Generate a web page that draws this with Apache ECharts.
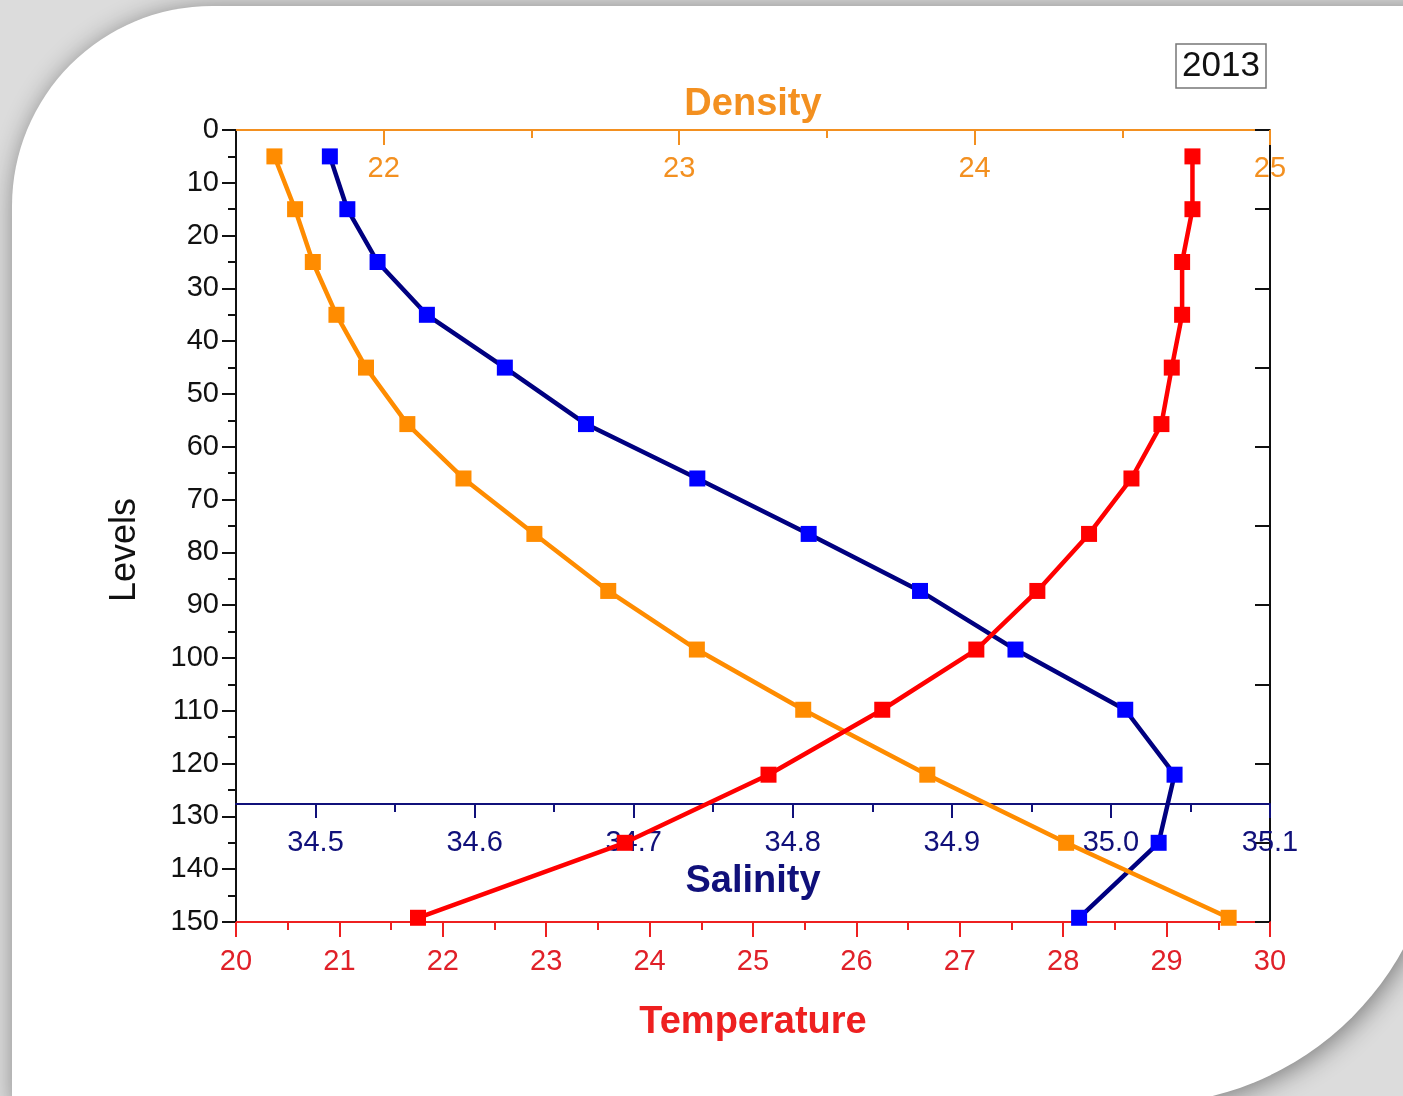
<!DOCTYPE html>
<html>
<head>
<meta charset="utf-8">
<title>2013 profile</title>
<script src="https://cdn.jsdelivr.net/npm/echarts@6/dist/echarts.min.js"></script>
<style>
    html, body { margin: 0; padding: 0; width: 1403px; height: 1096px; overflow: hidden; background: #dcdcdc; }
    .card {
        position: absolute; left: 12px; top: 6px; width: 1428px; height: 1099px;
        background: #fff; border-radius: 200px 0 300px 0;
        box-shadow: 3px 3px 26px rgba(0, 0, 0, 0.45);
    }
    #chart { position: absolute; left: 0; top: 0; width: 1403px; height: 1096px; }
</style>
</head>
<body>
<div class="card"></div>
<div id="chart"></div>
<script>
// depth levels of the profile points
const levels = [5, 15, 25, 35, 45, 55.7, 66, 76.5, 87.3, 98.4, 109.8, 122.1, 135, 149.2];
const temperature = [29.25, 29.25, 29.15, 29.15, 29.05, 28.95, 28.66, 28.25, 27.75, 27.16, 26.25, 25.15, 23.76, 21.76];
const density = [21.63, 21.70, 21.76, 21.84, 21.94, 22.08, 22.27, 22.51, 22.76, 23.06, 23.42, 23.84, 24.31, 24.86];
const salinity = [34.509, 34.520, 34.539, 34.570, 34.619, 34.670, 34.740, 34.810, 34.880, 34.940, 35.009, 35.040, 35.030, 34.980];

const densityTicks = [22, 23, 24, 25];
const densityMinor = [22.5, 23.5, 24.5];
const salinityTicks = [34.5, 34.6, 34.7, 34.8, 34.9, 35.0, 35.1];
const salinityMinor = [34.55, 34.65, 34.75, 34.85, 34.95, 35.05];

const FONT = '"Liberation Sans", Arial, sans-serif';
const RED = '#ee2020';
const ORANGE = '#f39020';
const NAVY = '#10107a';

function pairs(xs) {
    return xs.map(function(v, i) { return [v, levels[i]]; });
}

let chart = echarts.init(document.getElementById('chart'), null, { renderer: 'canvas' });

let options = {
    animation: false,
    backgroundColor: 'transparent',
    title: {
        text: '2013',
        left: 1176,
        top: 44,
        padding: [5, 6, 4, 6],
        borderColor: '#777',
        borderWidth: 1.5,
        textStyle: { fontSize: 35, fontWeight: 'normal', color: '#111', fontFamily: FONT }
    },
    grid: {
        left: 236,
        top: 130,
        width: 1034,
        height: 792,
        outerBoundsMode: 'none'
    },
    xAxis: [
        {
            // temperature
            type: 'value', position: 'bottom', min: 20, max: 30, interval: 1,
            name: 'Temperature', nameLocation: 'middle', nameGap: 82,
            nameTextStyle: { color: RED, fontSize: 38, fontWeight: 'bold', fontFamily: FONT },
            axisLine: { onZero: false, lineStyle: { color: RED, width: 2 } },
            axisTick: { length: 15, lineStyle: { color: RED, width: 2 } },
            minorTick: { show: true, splitNumber: 2, length: 8, lineStyle: { color: RED, width: 2 } },
            axisLabel: { color: '#e02028', fontSize: 29, margin: 25, fontFamily: FONT },
            splitLine: { show: false }
        },
        {
            // density
            type: 'value', position: 'top', min: 21.5, max: 25,
            name: 'Density', nameLocation: 'middle', nameGap: 6,
            nameTextStyle: { color: ORANGE, fontSize: 38, fontWeight: 'bold', fontFamily: FONT },
            axisLine: { onZero: false, lineStyle: { color: ORANGE, width: 2 } },
            axisTick: { inside: true, length: 15, customValues: densityTicks, lineStyle: { color: ORANGE, width: 2 } },
            axisLabel: { inside: true, customValues: densityTicks, color: ORANGE, fontSize: 29, margin: 24, fontFamily: FONT },
            splitLine: { show: false }
        },
        {
            // density minor ticks
            type: 'value', position: 'top', min: 21.5, max: 25,
            axisLine: { show: false, onZero: false },
            axisTick: { inside: true, length: 8, customValues: densityMinor, lineStyle: { color: ORANGE, width: 2 } },
            axisLabel: { show: false },
            splitLine: { show: false }
        },
        {
            // salinity
            type: 'value', position: 'bottom', offset: -118, min: 34.45, max: 35.1,
            name: 'Salinity', nameLocation: 'middle', nameGap: 59,
            nameTextStyle: { color: NAVY, fontSize: 38, fontWeight: 'bold', fontFamily: FONT },
            axisLine: { onZero: false, lineStyle: { color: NAVY, width: 2 } },
            axisTick: { length: 14, customValues: salinityTicks, lineStyle: { color: NAVY, width: 2 } },
            axisLabel: {
                customValues: salinityTicks, color: NAVY, fontSize: 29, margin: 24, fontFamily: FONT,
                formatter: function(v) { return v.toFixed(1); }
            },
            splitLine: { show: false }
        },
        {
            // salinity minor ticks
            type: 'value', position: 'bottom', offset: -118, min: 34.45, max: 35.1,
            axisLine: { show: false, onZero: false },
            axisTick: { length: 8, customValues: salinityMinor, lineStyle: { color: NAVY, width: 2 } },
            axisLabel: { show: false },
            splitLine: { show: false }
        }
    ],
    yAxis: [
        {
            type: 'value', position: 'left', inverse: true, min: 0, max: 150, interval: 10,
            axisLine: { onZero: false, lineStyle: { color: '#111', width: 2 } },
            axisTick: { length: 14, lineStyle: { color: '#111', width: 2 } },
            minorTick: { show: true, splitNumber: 2, length: 8, lineStyle: { color: '#111', width: 2 } },
            axisLabel: { color: '#111', fontSize: 29, margin: 17, fontFamily: FONT },
            splitLine: { show: false }
        },
        {
            type: 'value', position: 'right', inverse: true, min: 0, max: 150, interval: 15,
            axisLine: { onZero: false, lineStyle: { color: '#111', width: 2 } },
            axisTick: { inside: true, length: 15, lineStyle: { color: '#111', width: 2 } },
            axisLabel: { show: false },
            splitLine: { show: false }
        }
    ],
    graphic: [
        {
            type: 'text', x: 125, y: 550, rotation: Math.PI / 2,
            style: {
                text: 'Levels', fill: '#111', fontSize: 36, fontFamily: FONT,
                align: 'center', verticalAlign: 'middle', textAlign: 'center', textVerticalAlign: 'middle'
            }
        }
    ],
    series: [
        {
            name: 'Salinity', type: 'line', xAxisIndex: 3, yAxisIndex: 0,
            data: pairs(salinity), symbol: 'rect', symbolSize: 16,
            lineStyle: { color: '#000080', width: 4.5 },
            itemStyle: { color: '#0000ff' }
        },
        {
            name: 'Density', type: 'line', xAxisIndex: 1, yAxisIndex: 0,
            data: pairs(density), symbol: 'rect', symbolSize: 16,
            lineStyle: { color: '#ff8c00', width: 4.5 },
            itemStyle: { color: '#ff8c00' }
        },
        {
            name: 'Temperature', type: 'line', xAxisIndex: 0, yAxisIndex: 0,
            data: pairs(temperature), symbol: 'rect', symbolSize: 16,
            lineStyle: { color: '#ff0000', width: 4.5 },
            itemStyle: { color: '#ff0000' }
        }
    ]
};

chart.setOption(options);
window.addEventListener('resize', function() { chart.resize(); }, false);
</script>
</body>
</html>
